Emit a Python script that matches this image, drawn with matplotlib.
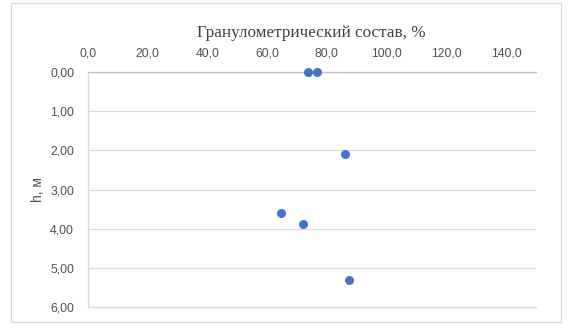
import matplotlib
matplotlib.use("Agg")
import matplotlib.pyplot as plt
from matplotlib.patches import Rectangle
from matplotlib.ticker import FuncFormatter

# Granulometric composition (%) versus depth h (m)
composition = [73.8, 76.8, 86.2, 64.7, 72.1, 87.3]
depth = [0.0, 0.0, 2.1, 3.6, 3.89, 5.31]

x_ticks = [0, 20, 40, 60, 80, 100, 120, 140]
y_ticks = [0, 1, 2, 3, 4, 5, 6]

title = "Гранулометрический состав, %"
y_label = "h, м"

W, H = 568, 325
fig = plt.figure(figsize=(W / 100, H / 100), dpi=100)
fig.patch.set_facecolor("white")

# Outer chart border
fig.add_artist(Rectangle((11 / W, 3 / H), 550 / W, 319 / H, transform=fig.transFigure,
                         fill=False, edgecolor="#d9d9d9", linewidth=0.9))

ax = fig.add_axes([88 / W, 1 - 307 / H, 448 / W, 235 / H])
ax.scatter(composition, depth, s=42, color="#4472C4", zorder=3, linewidths=0,
           clip_on=False)

ax.set_xlim(0, 150)
ax.set_ylim(6, 0)
ax.xaxis.tick_top()
ax.set_xticks(x_ticks)
ax.set_yticks(y_ticks)
ax.xaxis.set_major_formatter(FuncFormatter(lambda v, p: f"{v:.1f}".replace(".", ",")))
ax.yaxis.set_major_formatter(FuncFormatter(lambda v, p: f"{v:.2f}".replace(".", ",")))
ax.tick_params(axis="both", length=0, labelsize=8.8, labelcolor="#505050")
ax.tick_params(axis="y", pad=10)
ax.tick_params(axis="x", pad=9)
for lbl in ax.get_xticklabels() + ax.get_yticklabels():
    lbl.set_fontfamily("Liberation Sans")

ax.grid(axis="y", color="#d9d9d9", linewidth=0.9)
ax.grid(axis="x", visible=False)
ax.spines["right"].set_visible(False)
ax.spines["top"].set_color("#bfbfbf")
ax.spines["top"].set_linewidth(0.9)
for side in ("left", "bottom"):
    ax.spines[side].set_color("#d9d9d9")
    ax.spines[side].set_linewidth(0.9)

fig.text(311 / W, 1 - 33 / H, title, ha="center", va="center", fontsize=12.3,
         family="Liberation Serif", color="#404040")
fig.text(38 / W, 1 - 190 / H, y_label, ha="center", va="center", rotation=90,
         fontsize=10, family="Liberation Sans", color="#505050")

fig.savefig("out.png", dpi=100, facecolor="white")
